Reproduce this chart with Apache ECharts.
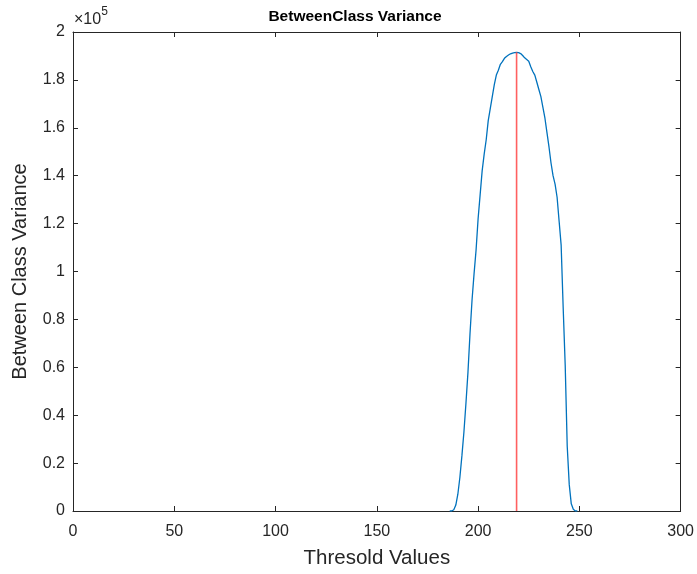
<!DOCTYPE html>
<html>
<head>
<meta charset="utf-8">
<script src="https://cdn.jsdelivr.net/npm/echarts@6/dist/echarts.min.js"></script>
<style>
html,body{margin:0;padding:0;background:#fff;}
#chart{width:697px;height:574px;}
</style>
</head>
<body>
<div id="chart"></div>
<script>
// Threshold values (x) and between-class variance (y)
const thresholds = [186,187,188,189,190,191,192,193,194,195,196,197,198,199,200,201,202,203,204,205,206,207,208,209,210,211,212,213,214,215,216,217,218,219,220,221,222,223,224,225,226,227,228,229,230,231,232,233,234,235,236,237,238,239,240,241,242,243,244,245,246,247,248,249];
const variance = [0,0,500,2500,7000,14000,23000,33000,45000,58000,74000,88000,99000,109000,122000,132000,142000,149000,155000,163000,168000,173000,178000,182000,184000,186500,187600,189000,189800,190400,190900,191200,191400,191500,191400,191000,190200,189200,188500,187800,185500,183500,182000,179000,176000,173000,168500,164000,158000,152000,145300,140000,136500,131000,121000,111000,85000,61000,27000,11000,3000,700,0,0];
const optimalThreshold = 219;
const xTicks = [0,50,100,150,200,250,300];
const yTickStep = 20000;

const txt = '#262626';
const font = 'Liberation Sans, Arial, Helvetica, sans-serif';
const peak = variance[thresholds.indexOf(optimalThreshold)];

const chart = echarts.init(document.getElementById('chart'));
const axisLineStyle = {color: txt, width: 1};
chart.setOption({
  backgroundColor: '#fff',
  animation: false,
  textStyle: {fontFamily: font},
  title: {
    text: 'BetweenClass Variance',
    left: 350, top: 4, textAlign: 'center',
    textStyle: {fontFamily: font, fontSize: 15.5, fontWeight: 'bold', color: '#000'}
  },
  graphic: [{
    type: 'text', left: 74, top: 6,
    style: {
      text: '{a|×10}{b|5}',
      rich: {
        a: {fontFamily: font, fontSize: 16, fill: txt, verticalAlign: 'bottom', lineHeight: 22},
        b: {fontFamily: font, fontSize: 12, fill: txt, verticalAlign: 'top', lineHeight: 22, padding: [0,0,9,0]}
      }
    }
  }],
  grid: {left: 73, right: 16, top: 32, bottom: 62, containLabel: false},
  xAxis: [{
    type: 'value', min: xTicks[0], max: xTicks[xTicks.length-1], interval: 50,
    name: 'Thresold Values', nameLocation: 'middle', nameGap: 37,
    nameTextStyle: {fontFamily: font, fontSize: 20.5, color: txt},
    axisLine: {show: true, onZero: false, lineStyle: axisLineStyle},
    axisTick: {show: true, inside: true, length: 5, lineStyle: axisLineStyle},
    axisLabel: {fontFamily: font, fontSize: 16, color: txt, margin: 13},
    splitLine: {show: false}
  }, {
    type: 'value', position: 'top', min: xTicks[0], max: xTicks[xTicks.length-1], interval: 50,
    axisLine: {show: true, onZero: false, lineStyle: axisLineStyle},
    axisTick: {show: true, inside: true, length: 5, lineStyle: axisLineStyle},
    axisLabel: {show: false}, splitLine: {show: false}
  }],
  yAxis: [{
    type: 'value', min: 0, max: 200000, interval: yTickStep,
    name: 'Between Class Variance', nameLocation: 'middle', nameGap: 43,
    nameTextStyle: {fontFamily: font, fontSize: 20, color: txt},
    axisLine: {show: true, onZero: false, lineStyle: axisLineStyle},
    axisTick: {show: true, inside: true, length: 5, lineStyle: axisLineStyle},
    axisLabel: {fontFamily: font, fontSize: 16, color: txt, margin: 8,
      formatter: v => String(Math.round(v / 1e4) / 10)},
    splitLine: {show: false}
  }, {
    type: 'value', position: 'right', min: 0, max: 200000, interval: yTickStep,
    axisLine: {show: true, onZero: false, lineStyle: axisLineStyle},
    axisTick: {show: true, inside: true, length: 5, lineStyle: axisLineStyle},
    axisLabel: {show: false}, splitLine: {show: false}
  }],
  series: [{
    type: 'line', xAxisIndex: 0, yAxisIndex: 0,
    data: thresholds.map((t, i) => [t, variance[i]]),
    showSymbol: false, smooth: false,
    lineStyle: {color: '#0072BD', width: 1.3},
    itemStyle: {color: '#0072BD'}, z: 3
  }, {
    type: 'line', xAxisIndex: 0, yAxisIndex: 0,
    data: [[optimalThreshold, 0], [optimalThreshold, peak]],
    showSymbol: false,
    lineStyle: {color: '#ff4444', width: 1.6, opacity: 0.85},
    itemStyle: {color: '#ff4444'}, z: 4
  }]
});
</script>
</body>
</html>
